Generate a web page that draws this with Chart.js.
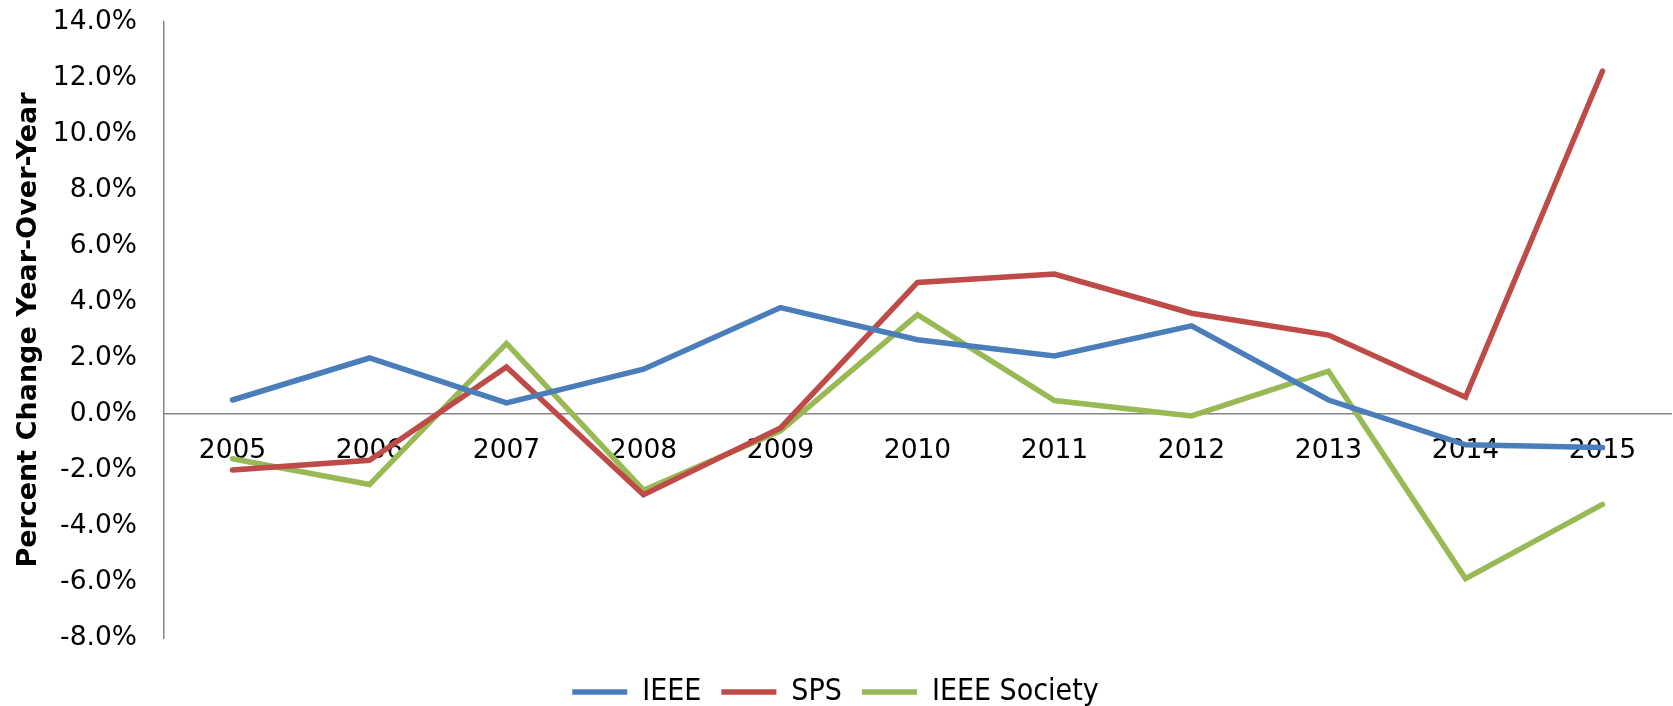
<!DOCTYPE html>
<html>
<head>
<meta charset="utf-8">
<script src="https://cdn.jsdelivr.net/npm/chart.js@4.4.1/dist/chart.umd.min.js"></script>
<style>
  html, body { margin: 0; padding: 0; background: #ffffff; }
  #wrap { width: 1673px; height: 706px; position: relative; }
</style>
</head>
<body>
<div id="wrap"><canvas id="chart"></canvas></div>
<script>
const years = ['2005', '2006', '2007', '2008', '2009', '2010', '2011', '2012', '2013', '2014', '2015'];
const ieee = [0.5, 2.0, 0.4, 1.6, 3.8, 2.65, 2.07, 3.15, 0.5, -1.1, -1.2];
const sps = [-2.0, -1.65, 1.68, -2.88, -0.5, 4.7, 5.0, 3.6, 2.82, 0.6, 12.25];
const society = [-1.6, -2.52, 2.52, -2.72, -0.6, 3.55, 0.48, -0.07, 1.53, -5.88, -3.23];

const yMin = -8;
const yMax = 14;
const yStep = 2;

const axisGray = '#868686';

function series(label, data, color) {
    return {
        label: label,
        data: data,
        borderColor: color,
        backgroundColor: color,
        borderWidth: 5.5,
        borderCapStyle: 'round',
        borderJoinStyle: 'miter',
        pointRadius: 0,
        pointHoverRadius: 0,
        tension: 0,
        fill: false
    };
}

const ctx = document.getElementById('chart').getContext('2d');
new Chart(ctx, {
    type: 'line',
    data: {
        labels: years,
        datasets: [
            series('IEEE', ieee, '#4a7ebb'),
            series('SPS', sps, '#be4b48'),
            series('IEEE Society', society, '#98b954')
        ]
    },
    options: {
        responsive: true,
        maintainAspectRatio: false,
        animation: false,
        layout: { padding: { top: 22, right: 2, left: 0, bottom: -11 } },
        plugins: {
            tooltip: { enabled: false },
            legend: {
                position: 'bottom',
                title: { display: true, text: '', font: { size: 10, lineHeight: 1 }, padding: { top: 9, bottom: 0 } },
                labels: {
                    usePointStyle: true,
                    pointStyle: 'line',
                    pointStyleWidth: 55,
                    padding: 20,
                    color: '#000000',
                    font: { family: '"DejaVu Sans Condensed", "DejaVu Sans", sans-serif', size: 30 }
                }
            }
        },
        scales: {
            x: {
                position: { y: 0 },
                offset: true,
                grid: { display: false, drawTicks: false },
                border: { display: true, color: axisGray, width: 1.5 },
                ticks: {
                    color: '#000000',
                    padding: 21,
                    maxRotation: 0,
                    autoSkip: false,
                    font: { family: '"DejaVu Sans", Verdana, sans-serif', size: 26.5 }
                }
            },
            y: {
                min: yMin,
                max: yMax,
                grid: { display: false, drawTicks: false },
                border: { display: true, color: axisGray, width: 1.5 },
                afterFit: (scale) => {
                    scale.width = 164;
                    // keep the plot edges where the layout padding puts them
                    scale.paddingTop = 0;
                    scale.paddingBottom = 0;
                },
                ticks: {
                    stepSize: yStep,
                    color: '#000000',
                    padding: 27,
                    font: { family: '"DejaVu Sans", Verdana, sans-serif', size: 26.5 },
                    callback: (v) => v.toFixed(1) + '%'
                },
                title: {
                    display: true,
                    text: 'Percent Change Year-Over-Year',
                    color: '#000000',
                    padding: { top: 13, bottom: 0 },
                    font: { family: '"DejaVu Sans", Verdana, sans-serif', size: 27, weight: 'bold' }
                }
            }
        }
    }
});
</script>
</body>
</html>
